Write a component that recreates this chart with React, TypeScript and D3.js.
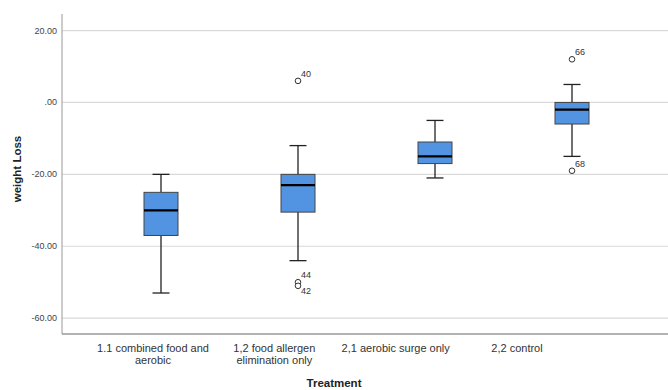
import React from "react";
import * as d3 from "d3";

const W = 668;
const H = 390;

const categories = [
  "1.1 combined food and aerobic",
  "1,2 food allergen elimination only",
  "2,1 aerobic surge only",
  "2,2 control",
];
const labelLines = [
  ["1.1 combined food and", "aerobic"],
  ["1,2 food allergen", "elimination only"],
  ["2,1 aerobic surge only"],
  ["2,2 control"],
];
const whiskerLow = [-53, -44, -21, -15];
const q1 = [-37, -30.5, -17, -6];
const median = [-30, -23, -15, -2];
const q3 = [-25, -20, -11, 0];
const whiskerHigh = [-20, -12, -5, 5];
const outliers = [
  [],
  [{ v: 6, id: "40" }, { v: -50, id: "44" }, { v: -51, id: "42" }],
  [],
  [{ v: 12, id: "66" }, { v: -19, id: "68" }],
];
const yTicks = [20, 0, -20, -40, -60];
const yTickLabels = ["20.00", ".00", "-20.00", "-40.00", "-60.00"];

const font = "'Liberation Sans', Arial, sans-serif";

export default function App() {
  const y = d3.scaleLinear().domain([-64.4, 24.6]).range([334, 14]);
  const x = d3.scalePoint<string>().domain(categories).range([161, 572]);
  const xLabel = d3.scalePoint<string>().domain(categories).range([153, 517]);
  const left = 62;
  const right = 668;
  const boxW = 34;
  const capW = 17;

  return (
    <svg
      width={W}
      height={H}
      style={{ position: "absolute", left: 0, top: 0, background: "#fff" }}
      fontFamily={font}
    >
      {yTicks.map((t, i) => (
        <g key={t}>
          <line x1={left} x2={right} y1={y(t)} y2={y(t)} stroke="#d9d9d9" strokeWidth={1.2} />
          <text x={left - 5} y={y(t) + 3} fontSize={9} fill="#444" textAnchor="end">
            {yTickLabels[i]}
          </text>
        </g>
      ))}
      <line x1={left} x2={left} y1={14} y2={334} stroke="#aaa" strokeWidth={1.2} />
      <line x1={left} x2={right} y1={334} y2={334} stroke="#666" strokeWidth={1} />

      {categories.map((c, i) => {
        const cx = x(c)!;
        const up = outliers[i];
        return (
          <g key={c}>
            <line x1={cx} x2={cx} y1={y(whiskerHigh[i])} y2={y(q3[i])} stroke="#222" strokeWidth={1.3} />
            <line x1={cx} x2={cx} y1={y(q1[i])} y2={y(whiskerLow[i])} stroke="#222" strokeWidth={1.3} />
            <line x1={cx - capW / 2} x2={cx + capW / 2} y1={y(whiskerHigh[i])} y2={y(whiskerHigh[i])} stroke="#222" strokeWidth={1.3} />
            <line x1={cx - capW / 2} x2={cx + capW / 2} y1={y(whiskerLow[i])} y2={y(whiskerLow[i])} stroke="#222" strokeWidth={1.3} />
            <rect
              x={cx - boxW / 2}
              y={y(q3[i])}
              width={boxW}
              height={y(q1[i]) - y(q3[i])}
              fill="#5294e2"
              stroke="#444"
              strokeWidth={1}
            />
            <line x1={cx - boxW / 2} x2={cx + boxW / 2} y1={y(median[i])} y2={y(median[i])} stroke="#000" strokeWidth={2.2} />
            {up.map((o) => {
              const below = up.some((p) => p.v > o.v && p.v - o.v < 3);
              return (
                <g key={o.id}>
                  <circle cx={cx} cy={y(o.v)} r={2.8} fill="#fff" stroke="#333" strokeWidth={1} />
                  <text
                    x={cx + 3}
                    y={below ? y(o.v) + 8 : y(o.v) - 4}
                    fontSize={9}
                    fill="#333"
                  >
                    {o.id}
                  </text>
                </g>
              );
            })}
          </g>
        );
      })}

      {categories.map((c, i) => (
        <text key={c} x={xLabel(c)!} y={352} fontSize={11} fill="#333" textAnchor="middle">
          {labelLines[i].map((l, j) => (
            <tspan key={j} x={xLabel(c)!} dy={j === 0 ? 0 : 12}>
              {l}
            </tspan>
          ))}
        </text>
      ))}

      <text x={334} y={387} fontSize={11.5} fontWeight="bold" fill="#222" textAnchor="middle">
        Treatment
      </text>
      <text
        transform={`translate(21,169) rotate(-90)`}
        fontSize={11.5}
        fontWeight="bold"
        fill="#222"
        textAnchor="middle"
      >
        weight Loss
      </text>
    </svg>
  );
}
